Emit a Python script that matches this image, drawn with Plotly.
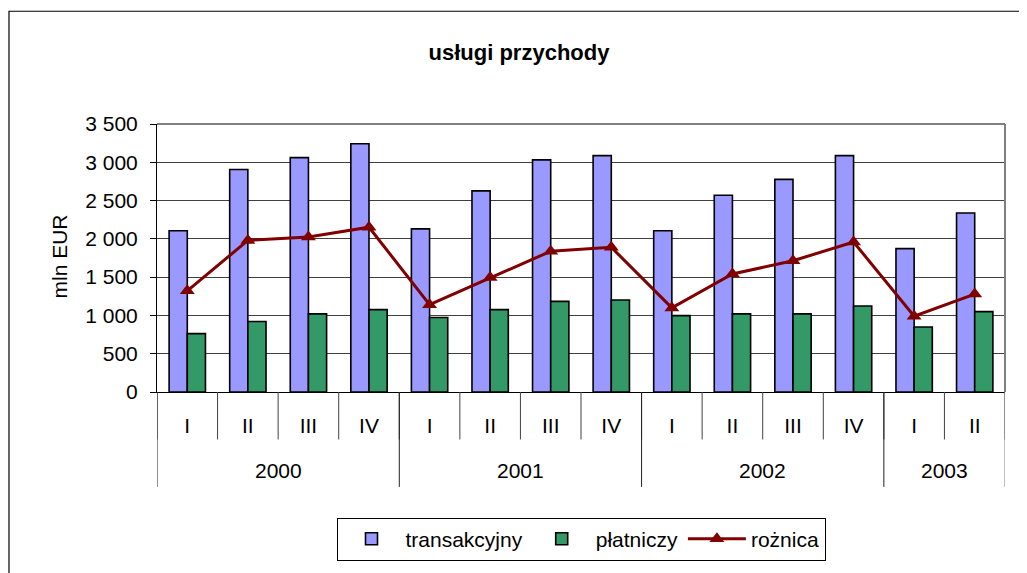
import plotly.graph_objects as go

quarters = ["I", "II", "III", "IV", "I", "II", "III", "IV", "I", "II", "III", "IV", "I", "II"]
years = ["2000", "2001", "2002", "2003"]
year_sizes = [4, 4, 4, 2]

transakcyjny = [2105, 2906, 3061, 3242, 2131, 2626, 3031, 3087, 2105, 2570, 2777, 3087, 1873, 2338]
platniczy = [762, 921, 1020, 1076, 973, 1076, 1184, 1201, 998, 1020, 1020, 1124, 848, 1050]
roznica = [1321, 1980, 2023, 2152, 1141, 1494, 1838, 1890, 1098, 1541, 1714, 1959, 990, 1279]

x = list(range(len(quarters)))

# page has an 8px body margin; plot area target in window pixels: x 157..1005, y 124..395
OFF = 8
W, H = 1027 - OFF, 573 - OFF
L, R, T, B = 157, 1005, 124, 395


def px(v):
    return (v - L) / (R - L)


def py(v):
    return (B - v) / (B - T)


fig = go.Figure()
fig.add_trace(go.Bar(x=x, y=transakcyjny, name="transakcyjny",
                     marker=dict(color="#9999FF", line=dict(color="black", width=1.6))))
fig.add_trace(go.Bar(x=x, y=platniczy, name="płatniczy",
                     marker=dict(color="#339966", line=dict(color="black", width=1.6))))
fig.add_trace(go.Scatter(x=x, y=roznica, name="rożnica", mode="lines+markers",
                         line=dict(color="#800000", width=3),
                         marker=dict(symbol="triangle-up", size=13, color="#800000")))

font = "Liberation Sans, Arial, sans-serif"
shapes = []
# quarter dividers
for i in range(len(quarters) + 1):
    shapes.append(dict(type="line", xref="x", yref="paper", x0=i - 0.5, x1=i - 0.5,
                       y0=0, y1=py(443), line=dict(color="#404040", width=1)))
# year dividers
pos = -0.5
for n in [0] + year_sizes:
    pos += n
    col = "#808080" if pos == len(quarters) - 0.5 else "#202020"
    shapes.append(dict(type="line", xref="x", yref="paper", x0=pos, x1=pos,
                       y0=0, y1=py(491), line=dict(color=col, width=1)))
# outer chart frame
shapes.append(dict(type="rect", xref="paper", yref="paper", x0=px(9), x1=px(1040),
                   y0=py(590), y1=py(10), line=dict(color="black", width=1.2)))
# plot area top/right border
shapes.append(dict(type="line", xref="paper", yref="paper", x0=0, x1=1, y0=1, y1=1,
                   line=dict(color="#808080", width=2)))
shapes.append(dict(type="line", xref="paper", yref="paper", x0=1, x1=1, y0=0, y1=1,
                   line=dict(color="#808080", width=2)))

annotations = []
start = 0
for yr, n in zip(years, year_sizes):
    annotations.append(dict(text=yr, x=start + (n - 1) / 2, xref="x", y=py(474), yref="paper",
                            xanchor="center", yanchor="middle", showarrow=False,
                            font=dict(size=21, color="black", family=font)))
    start += n
annotations.append(dict(text="mln EUR", textangle=-90, x=px(60), y=py(258), xref="paper",
                        yref="paper", xanchor="center", yanchor="middle", showarrow=False,
                        font=dict(size=21, color="black", family=font)))

fig.update_layout(
    width=W, height=H,
    margin=dict(l=L - OFF, r=W - (R - OFF), t=T - OFF, b=H - (B - OFF), pad=0),
    paper_bgcolor="white", plot_bgcolor="white",
    font=dict(family=font, size=21, color="black"),
    separators=", ",
    title=dict(text="<b>usługi przychody</b>", x=px(519), xref="paper", xanchor="center",
               y=1 - (52 - OFF) / H, yanchor="middle", font=dict(size=22, family=font)),
    barmode="group", bargap=0.4, bargroupgap=0,
    showlegend=True,
    legend=dict(orientation="h", x=0.5, xanchor="center", y=py(522), yanchor="top",
                bordercolor="black", borderwidth=1, font=dict(size=21, family=font),
                itemwidth=58, traceorder="normal", tracegroupgap=0),
    shapes=shapes, annotations=annotations,
)
fig.update_xaxes(range=[-0.5, len(quarters) - 0.5], tickvals=x, ticktext=quarters,
                 showgrid=False, showline=True, linecolor="black", linewidth=1,
                 ticks="", tickfont=dict(size=21), ticklabelstandoff=15, zeroline=False)
fig.update_yaxes(range=[0, 3500], dtick=500, tickformat=",d", showgrid=True,
                 gridcolor="#404040", gridwidth=1, showline=True, linecolor="black",
                 linewidth=1, ticks="outside", ticklen=6, tickcolor="black",
                 tickfont=dict(size=21), ticklabelstandoff=8, zeroline=False)

fig.write_html("out.html")
